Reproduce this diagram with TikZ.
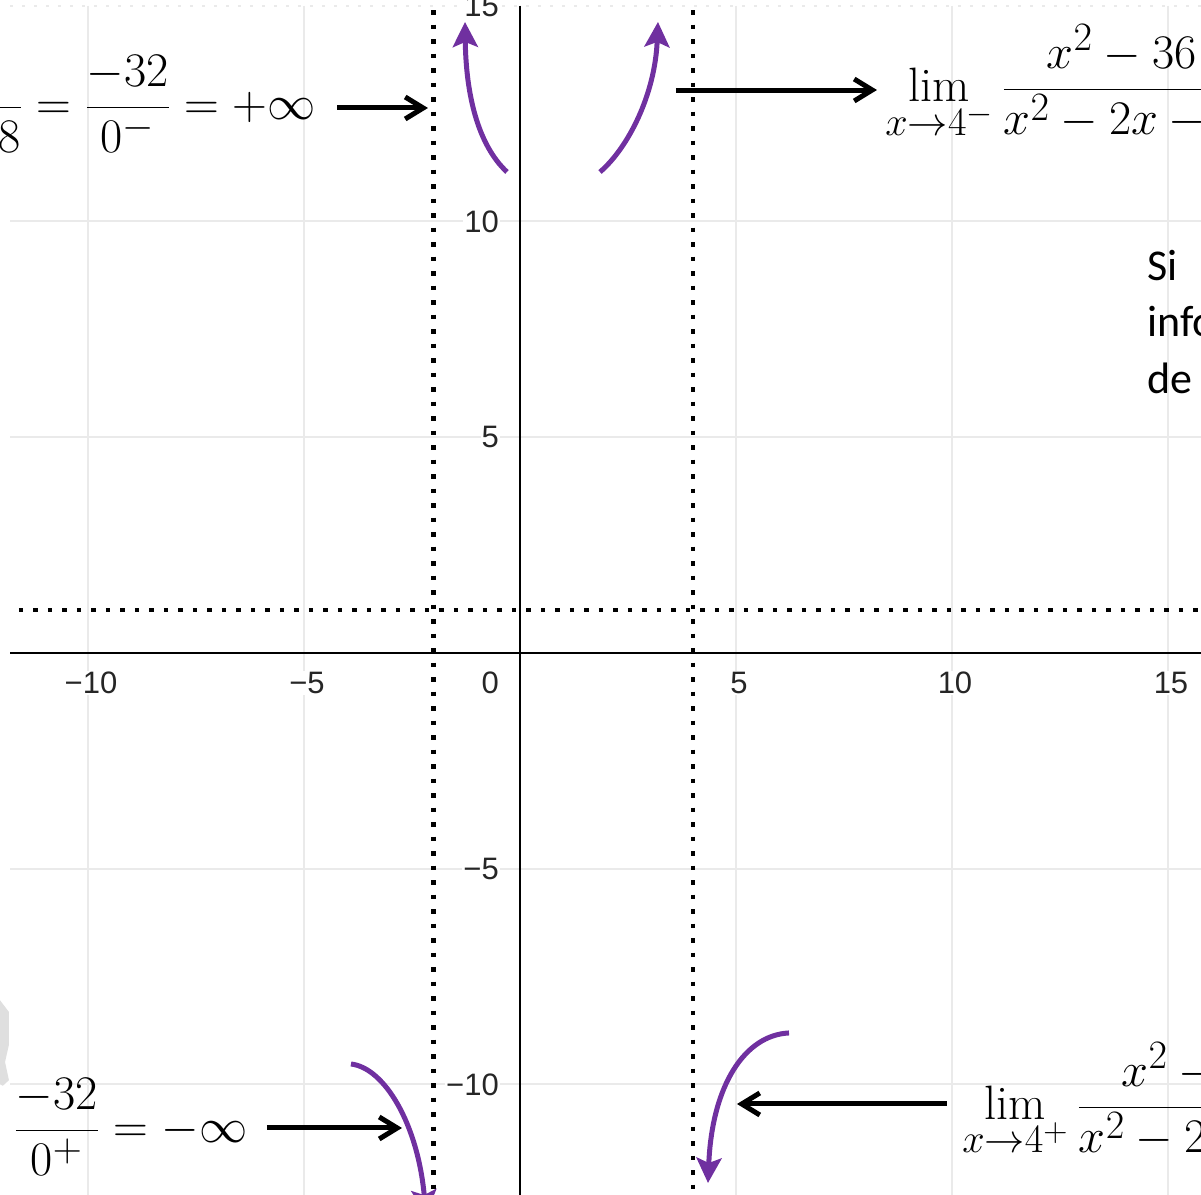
\documentclass[tikz,border=0pt]{standalone}
\usepackage{fontspec}
\newfontfamily\geofont{Liberation Sans}
\newfontfamily\calfont{Carlito}
\usetikzlibrary{arrows.meta}
\definecolor{curvpurple}{HTML}{7030A0}
\definecolor{gridgray}{HTML}{EAEAEA}

\begin{document}
\begin{tikzpicture}[
  x=43.2pt, y=43.15pt,
  gridln/.style={gridgray, line width=2pt},
  axisln/.style={black, line width=2.2pt},
  asym/.style={line width=4.5pt, dash pattern=on 4.5pt off 10pt},
  curv/.style={curvpurple, line width=5pt, -{Stealth[length=25pt,width=25pt,inset=5pt]}},
  arr/.style={line width=5pt, -{Straight Barb[length=18pt,width=22pt]}},
  tick/.style={font=\fontsize{31}{34}\geofont, text=black!85, fill=white, inner sep=1pt},
  eq/.style={font=\Huge, inner sep=0, scale=1.94, transform shape},
  note/.style={font=\fontsize{44}{56.5}\calfont, align=left, inner sep=0},
]

\useasboundingbox (-12.037,-12.561) rectangle (15.764,15.133);
\clip (-12.037,-12.561) rectangle (15.764,15.133);

%% ── grid ────────────────────────────────────────────────────────────────
\foreach \gx in {-10,-5,5,10,15} { \draw[gridln] (\gx,15) -- (\gx,-12.7); }
\foreach \gy in {-10,-5,5,10} { \draw[gridln] (-11.8,\gy) -- (15.9,\gy); }
\draw[gridln, dash pattern=on 3pt off 9pt] (-11.8,15) -- (15.9,15);

%% ── tick labels ─────────────────────────────────────────────────────────
\foreach \t/\lab in {-10/−10,-5/−5,5/5,10/10,15/15} {
  \node[tick, xshift=3pt] (xl\t) at (\t,-0.695) {\lab};
}
\foreach \t/\lab in {-10/−10,-5/−5,5/5,10/10,15/15} {
  \node[tick, anchor=east] (yl\t) at (-0.463,\t) {\lab};
}
\node[tick, anchor=east] (orig) at (-0.463,-0.695) {0};

%% ── axes ────────────────────────────────────────────────────────────────
\draw[axisln] (-11.8,0) -- (15.9,0);
\draw[axisln] (0,15) -- (0,-12.7);

%% ── asymptotes x=-2, x=4, y=1 ───────────────────────────────────────────
\draw[asym] (-2,14.9) -- (-2,-12.7);
\draw[asym] (4,14.9) -- (4,-12.7);
\draw[asym] (-11.6,1) -- (15.9,1);

%% scrap of a grey shape at the left edge
\fill[gray!25] (-12.05,-8.03) -- (-11.83,-8.32) -- (-11.83,-9.08) -- (-11.92,-9.48)
  -- (-11.83,-9.9) -- (-11.97,-10.03) -- (-12.05,-9.99) -- cycle;

%% ── branches near the vertical asymptotes ───────────────────────────────
\draw[curv] (-0.301,11.147) .. controls (-0.972,11.773) and (-1.25,12.93) .. (-1.273,14.624);
\draw[curv] (1.852,11.147) .. controls (2.5,11.703) and (3.125,12.932) .. (3.194,14.624);
\draw[curv] (-3.912,-9.525) .. controls (-3.125,-9.618) and (-2.361,-10.939) .. (-2.176,-13.025);
\draw[curv] (6.227,-8.806) .. controls (5.208,-8.853) and (4.444,-10.012) .. (4.352,-12.283);

%% ── limits ──────────────────────────────────────────────────────────────
\node[eq, anchor=base east] (limTL) at (-4.72,12.37)
  {$\displaystyle\frac{\hphantom{00}}{\hphantom{00}8}=\frac{-32}{0^-}=+\infty$};
\node[eq, anchor=base east] (limBL) at (-6.30,-11.34)
  {$\displaystyle=\frac{-32}{0^+}=-\infty$};
\node[eq, anchor=base west] (limTR) at (8.449,12.79)
  {$\displaystyle\lim_{x\to4^-}\frac{x^2-36}{x^2-2x-{\hphantom{8}}}$};
\node[eq, anchor=base west] (limBR) at (10.231,-10.80)
  {$\displaystyle\lim_{x\to4^+}\frac{x^2-{\hphantom{36}}}{x^2-2{\hphantom{x-8}}}$};

\coordinate (tipTL) at (-2.13,12.63);
\coordinate (tailTR) at (3.611,13.047);
\coordinate (tipBL) at (-2.731,-11.008);
\coordinate (tipBR) at (5.023,-10.452);

\draw[arr] ([xshift=21pt]limTL.east |- tipTL) -- (tipTL);
\draw[arr] (tailTR) -- ([xshift=-8pt]limTR.west |- tailTR);
\draw[arr] ([xshift=19pt]limBL.east |- tipBL) -- (tipBL);
\draw[arr] ([xshift=-15pt]limBR.west |- tipBR) -- (tipBR);

%% ── side note (cut off) ─────────────────────────────────────────────────
\node[note, anchor=north west] (nota) at (14.514,9.34) {Si\\info\\de};

\end{tikzpicture}
\end{document}
